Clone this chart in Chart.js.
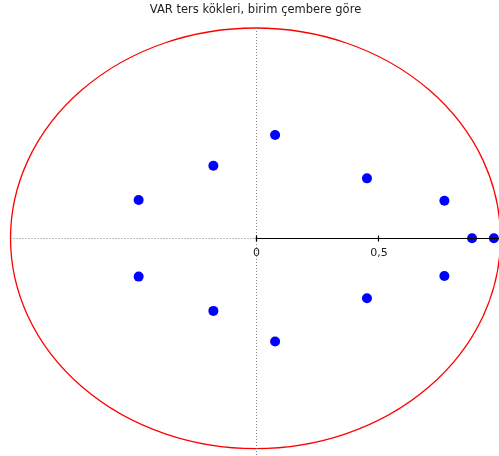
<!DOCTYPE html>
<html>
<head>
<meta charset="utf-8">
<script src="https://cdn.jsdelivr.net/npm/chart.js@4.4.1/dist/chart.umd.min.js"></script>
<style>
  html, body { margin: 0; padding: 0; background: #fff; }
  #chart { display: block; }
</style>
</head>
<body>
<canvas id="chart" width="499" height="456"></canvas>
<script>
// inverse roots of the VAR (real and imaginary parts)
const rootRe = [0.080, 0.080, -0.172, -0.172, -0.477, -0.477, 0.455, 0.455, 0.771, 0.771, 0.884, 0.973];
const rootIm = [0.491, -0.491, 0.345, -0.345, 0.182, -0.182, 0.285, -0.285, 0.179, -0.179, 0, 0];

const xTickValues = [0, 0.5];
const xTickLabels = ['0', '0,5'];
const chartTitle = 'VAR ters kökleri, birim çembere göre';

const points = rootRe.map((re, i) => ({ x: re, y: rootIm[i] }));

// unit circle + gnuplot style zero axes, drawn with the chart's own scales
const unitCircle = {
  id: 'unitCircle',
  beforeDatasetsDraw(chart) {
    const ctx = chart.ctx;
    const xs = chart.scales.x, ys = chart.scales.y;
    const cx = xs.getPixelForValue(0), cy = ys.getPixelForValue(0);
    const rx = xs.getPixelForValue(1) - cx, ry = cy - ys.getPixelForValue(1);
    ctx.save();
    ctx.strokeStyle = '#ff0000';
    ctx.lineWidth = 1.3;
    ctx.beginPath();
    ctx.ellipse(cx, cy, rx, ry, 0, 0, Math.PI * 2);
    ctx.stroke();

    // dotted zero lines
    ctx.lineWidth = 1;
    ctx.strokeStyle = '#808080';
    ctx.setLineDash([1, 2]);
    ctx.beginPath();
    ctx.moveTo(Math.round(cx) + 0.5, ys.getPixelForValue(1));
    ctx.lineTo(Math.round(cx) + 0.5, chart.chartArea.bottom);
    ctx.moveTo(xs.getPixelForValue(-1), Math.round(cy) + 0.5);
    ctx.lineTo(cx, Math.round(cy) + 0.5);
    ctx.stroke();
    ctx.restore();
  },
  afterDatasetsDraw(chart) {
    const ctx = chart.ctx;
    const xs = chart.scales.x, ys = chart.scales.y;
    const cx = xs.getPixelForValue(0), cy = Math.round(ys.getPixelForValue(0)) + 0.5;
    ctx.save();
    ctx.strokeStyle = '#000';
    ctx.lineWidth = 1.2;
    ctx.beginPath();
    ctx.moveTo(cx, cy);
    ctx.lineTo(chart.chartArea.right, cy);
    xTickValues.forEach(v => {
      const px = Math.round(xs.getPixelForValue(v)) + 0.5;
      ctx.moveTo(px, cy - 3);
      ctx.lineTo(px, cy + 3);
    });
    ctx.stroke();

    ctx.fillStyle = '#222';
    ctx.font = '11px "DejaVu Sans"';
    ctx.textAlign = 'center';
    ctx.textBaseline = 'middle';
    xTickValues.forEach((v, i) => {
      ctx.fillText(xTickLabels[i], xs.getPixelForValue(v) + 1, cy + 15);
    });

    ctx.font = '11.5px "DejaVu Sans"';
    ctx.fillText(chartTitle, cx, 10);
    ctx.restore();
  }
};

new Chart(document.getElementById('chart'), {
  type: 'scatter',
  data: {
    datasets: [{
      data: points,
      backgroundColor: '#0000ff',
      borderWidth: 0,
      pointRadius: 5,
      pointHoverRadius: 5,
      clip: false
    }]
  },
  options: {
    responsive: false,
    animation: false,
    devicePixelRatio: 1,
    layout: { autoPadding: false, padding: { top: 20, left: 0, right: 0, bottom: 0 } },
    plugins: {
      legend: { display: false },
      tooltip: { enabled: false },
      title: { display: false }
    },
    scales: {
      x: { type: 'linear', min: -1.0429, max: 0.9939, display: false },
      y: { type: 'linear', min: -1.035, max: 1.038, display: false }
    }
  },
  plugins: [unitCircle]
});
</script>
</body>
</html>
